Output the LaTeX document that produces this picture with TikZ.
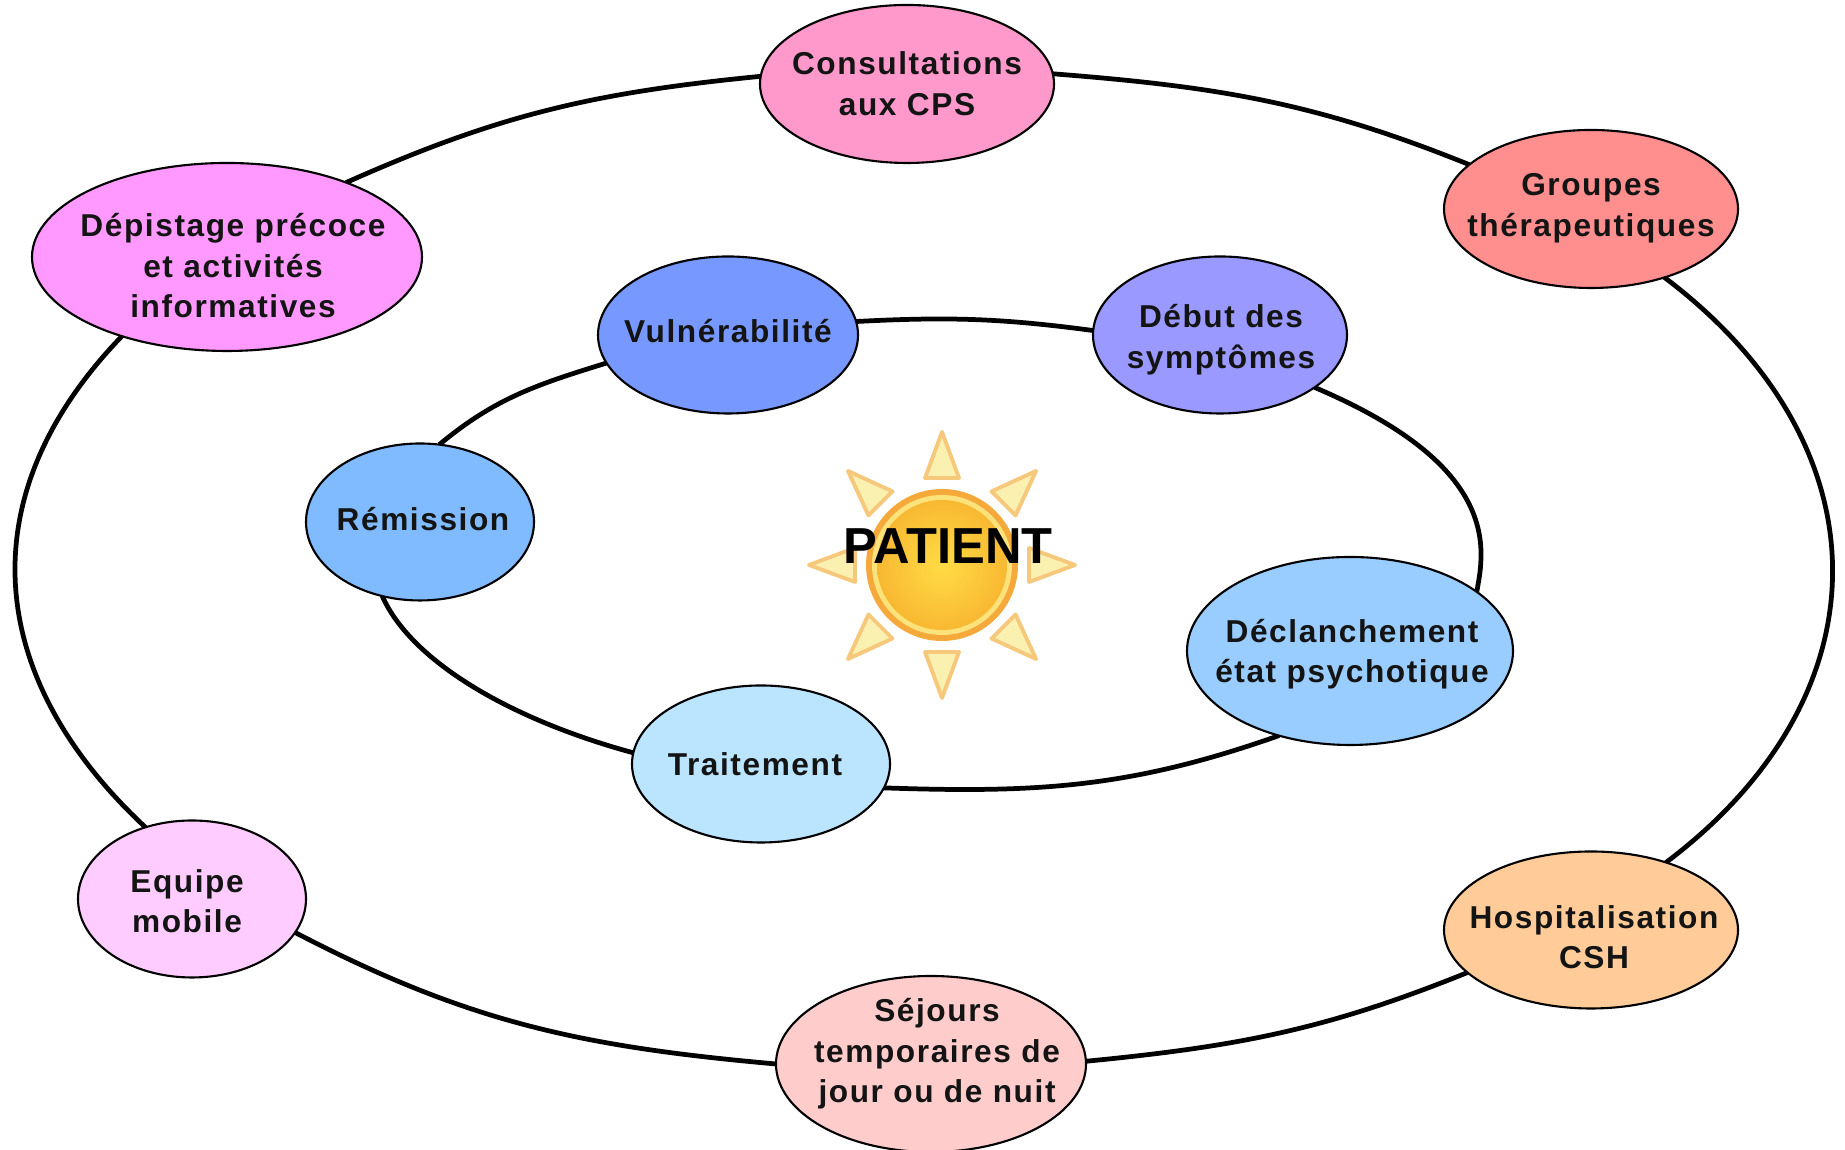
\documentclass[tikz,border=0pt]{standalone}
\usepackage{fontspec}
\setmainfont{Liberation Sans}[LetterSpace=5]
\newfontfamily\sunfont{Liberation Sans}
\usepackage{xcolor}
\definecolor{consultcol}{RGB}{255,153,204}
\definecolor{groupcol}{RGB}{255,143,143}
\definecolor{depistcol}{RGB}{255,153,255}
\definecolor{vulncol}{RGB}{119,153,255}
\definecolor{debutcol}{RGB}{153,153,255}
\definecolor{remicol}{RGB}{128,187,255}
\definecolor{declcol}{RGB}{153,204,255}
\definecolor{traitcol}{RGB}{187,229,255}
\definecolor{equipcol}{RGB}{255,204,255}
\definecolor{hospcol}{RGB}{255,204,153}
\definecolor{sejourcol}{RGB}{255,204,204}
\definecolor{rayline}{RGB}{246,200,124}
\definecolor{rayfill}{RGB}{250,240,176}
\definecolor{sunedge}{RGB}{245,169,58}
\definecolor{sunglow}{RGB}{252,226,122}
\definecolor{suninner}{RGB}{255,220,69}
\definecolor{sunouter}{RGB}{248,184,50}
\usetikzlibrary{shapes.geometric,backgrounds,calc}
% text of a phase, (#1,#2) away from the middle of its ellipse
\newcommand{\moved}[3]{\raisebox{\dimexpr#2-3.4pt\relax}[0pt][0pt]{\makebox[0pt]{\hspace*{2\dimexpr#1\relax}\begin{tabular}{@{}c@{}}#3\end{tabular}}}}
\tikzset{
  phase/.style={ellipse,draw=black,line width=.6pt,outer sep=0pt,inner sep=0pt,
    text=black!92,font=\fontsize{9}{11.4}\selectfont\bfseries},
  ring/.style={line width=1.35pt,black},
  ray/.style={draw=rayline,fill=rayfill,line width=1.1pt,line join=round}
}
\begin{document}
\begin{tikzpicture}
\useasboundingbox (0,0) rectangle (18.45,11.5);

\node[phase,fill=consultcol,minimum width=2.94cm,minimum height=1.58cm] (consultations) at (9.07,10.66) {\moved{0cm}{.01cm}{Consultations\\aux CPS}};
\node[phase,fill=groupcol,minimum width=2.94cm,minimum height=1.58cm] (groupes) at (15.91,9.41) {\moved{0cm}{.05cm}{Groupes\\thérapeutiques}};
\node[phase,fill=hospcol,minimum width=2.94cm,minimum height=1.57cm] (hospitalisation) at (15.91,2.20) {\moved{.03cm}{-.06cm}{Hospitalisation\\CSH}};
\node[phase,fill=sejourcol,minimum width=3.10cm,minimum height=1.76cm] (sejours) at (9.31,0.86) {\moved{.06cm}{.14cm}{Séjours\\temporaires de\\jour ou de nuit}};
\node[phase,fill=equipcol,minimum width=2.28cm,minimum height=1.57cm] (equipe) at (1.92,2.51) {\moved{-.05cm}{-.01cm}{Equipe\\mobile}};
\node[phase,fill=depistcol,minimum width=3.90cm,minimum height=1.88cm] (depistage) at (2.27,8.93) {\moved{.06cm}{-.08cm}{Dépistage précoce\\et activités\\informatives}};

\node[phase,fill=vulncol,minimum width=2.60cm,minimum height=1.57cm] (vulnerabilite) at (7.28,8.15) {\moved{0cm}{.05cm}{Vulnérabilité}};
\node[phase,fill=debutcol,minimum width=2.54cm,minimum height=1.57cm] (debut) at (12.20,8.15) {\moved{.01cm}{-.01cm}{Début des\\symptômes}};
\node[phase,fill=declcol,minimum width=3.26cm,minimum height=1.88cm] (declanchement) at (13.50,4.99) {\moved{.02cm}{.01cm}{Déclanchement\\état psychotique}};
\node[phase,fill=traitcol,minimum width=2.58cm,minimum height=1.57cm] (traitement) at (7.61,3.86) {\moved{-.06cm}{.01cm}{Traitement}};
\node[phase,fill=remicol,minimum width=2.28cm,minimum height=1.57cm] (remission) at (4.20,6.28) {\moved{.03cm}{.035cm}{Rémission}};
\coordinate (innerright) at (14.81,5.96);

\begin{scope}[on background layer]
%outer ring
\draw[ring] (consultations.4) to[out=-4.5,in=158] (groupes.160);
\draw[ring] (groupes.-43) to[out=-37,in=37,looseness=1.22] (hospitalisation.42);
\draw[ring] (hospitalisation.199) to[out=202,in=5.6] (sejours.1);
\draw[ring] (sejours.180) to[out=174.9,in=-27.5] (equipe.-18);
\draw[ring] (equipe.123) to[out=137,in=226,looseness=1.15] (depistage.217.5);
\draw[ring] (depistage.32) to[out=24,in=185.6] (consultations.177);
%inner ring
\draw[ring] (vulnerabilite.6.5) to[out=3,in=172.4] (debut.178);
\draw[ring] (debut.-29) to[out=-23,in=90,out looseness=1.22,in looseness=.75] (innerright);
\draw[ring] (innerright) to[out=-90,in=80] (declanchement.25.3);
\draw[ring] (declanchement.230) to[out=199.4,in=-2] (traitement.-11);
\draw[ring] (traitement.175) to[out=164.8,in=-66.2,out looseness=1.13,in looseness=.6] (remission.243);
\draw[ring] (remission.76.5) to[out=39.8,in=197.2] (vulnerabilite.193);
\end{scope}

%sun
\coordinate (sun) at (9.42,5.85);
\foreach \a in {0,45,...,315}
  \draw[ray,rotate around={\a:(sun)}] ($(sun)+(.87,.17)$) -- ($(sun)+(1.33,0)$) -- ($(sun)+(.87,-.17)$) -- cycle;
\fill[sunedge] (sun) circle (.76);
\fill[sunglow] (sun) circle (.70);
\shade[inner color=suninner,outer color=sunouter] (sun) circle (.65);
\node[font=\sunfont\fontsize{14.4}{14.4}\selectfont\bfseries,inner sep=0pt] (patient) at (9.48,6.04) {PATIENT};
\end{tikzpicture}
\end{document}
